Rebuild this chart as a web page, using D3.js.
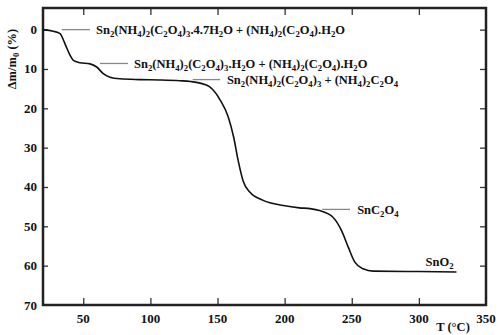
<!DOCTYPE html>
<html>
<head>
<meta charset="utf-8">
<script src="https://cdn.jsdelivr.net/npm/d3@7"></script>
<style>
  body { margin: 0; background: #fff; }
  text { font-family: "Liberation Serif", "Times New Roman", serif; font-weight: bold; fill: #111; }
</style>
</head>
<body>
<div id="viz"></div>
<script>
// TG curve: temperature (°C) and mass loss (%)
var temps  = [20, 27.7, 32.7, 36.4, 40.1, 42.6, 47.5, 55, 60, 64.9, 69.9, 77.3, 92, 107, 122, 130, 137, 144, 152, 158, 162, 165.4, 169, 174, 184, 199, 211, 219, 226, 236, 242.4, 247.4, 252.3, 258.5, 266, 300, 328];
var losses = [0, 0.4, 1.0, 3.6, 6.5, 7.8, 8.4, 8.7, 9.5, 11.2, 12.1, 12.5, 12.7, 12.8, 13.0, 13.2, 13.6, 14.5, 17.9, 22.2, 27.3, 33.3, 38.4, 41.3, 43.4, 44.7, 45.3, 45.5, 46.0, 47.7, 51.1, 55.3, 59.1, 60.8, 61.4, 61.5, 61.6];

var xTicks = [50, 100, 150, 200, 250, 300, 350];
var yTicks = [0, 10, 20, 30, 40, 50, 60, 70];

// annotations: text ("_" marks a subscript run), leader start/end temperatures, leader level
var labelTexts = [
  "Sn_2(NH_4)_2(C_2O_4)_3.4.7H_2O + (NH_4)_2(C_2O_4).H_2O",
  "Sn_2(NH_4)_2(C_2O_4)_3.H_2O + (NH_4)_2(C_2O_4).H_2O",
  "Sn_2(NH_4)_2(C_2O_4)_3 + (NH_4)_2C_2O_4",
  "SnC_2O_4",
  "SnO_2"
];
var leaderFrom = [34, 62.5, 131.5, 228, null];
var leaderTo   = [55, 83.3, 152, 248.7, null];
var leaderAt   = [0.0, 8.6, 12.7, 45.7, null];
var labelT     = [59.5, 87.8, 157, 254, 305];
var labelV     = [1.1, 9.7, 13.8, 46.9, 60.2];

var width = 500, height = 335;
var mLeft = 43, mRight = 486, mTop = 8, mBottom = 305;

var x = d3.scaleLinear().domain([20, 350]).range([mLeft, mRight]);
var y = d3.scaleLinear().domain([-5.5, 70]).range([mTop, mBottom]);

var svg = d3.select("#viz").append("svg")
  .attr("width", width)
  .attr("height", height);

// inward ticks on all four sides
svg.append("g").attr("transform", "translate(0," + mBottom + ")")
  .call(d3.axisTop(x).tickValues(xTicks.slice(0, -1)).tickSize(7).tickFormat(""));
svg.append("g").attr("transform", "translate(0," + mTop + ")")
  .call(d3.axisBottom(x).tickValues(xTicks.slice(0, -1)).tickSize(7).tickFormat(""));
svg.append("g").attr("transform", "translate(" + mLeft + ",0)")
  .call(d3.axisRight(y).tickValues(yTicks.slice(0, -1)).tickSize(5).tickFormat(""));
svg.append("g").attr("transform", "translate(" + mRight + ",0)")
  .call(d3.axisLeft(y).tickValues(yTicks.slice(0, -1)).tickSize(6).tickFormat(""));
svg.selectAll(".domain").remove();
svg.selectAll(".tick line").attr("stroke", "#333").attr("stroke-width", 1.3);

// frame
svg.append("rect")
  .attr("x", mLeft).attr("y", mTop)
  .attr("width", mRight - mLeft).attr("height", mBottom - mTop)
  .attr("fill", "none").attr("stroke", "#222").attr("stroke-width", 2.5);

// tick labels
svg.selectAll(".xl").data(xTicks).enter().append("text")
  .attr("x", function(d) { return x(d); })
  .attr("y", 323)
  .attr("text-anchor", "middle")
  .attr("font-size", 13)
  .text(function(d) { return d; });
svg.selectAll(".yl").data(yTicks).enter().append("text")
  .attr("x", 37)
  .attr("y", function(d) { return y(d) + 4.5; })
  .attr("text-anchor", "end")
  .attr("font-size", 13)
  .text(function(d) { return d; });

// formula text with subscripts
function formula(sel, str, size) {
  var parts = str.split(/(_[0-9]+)/);
  var sub = false;
  parts.forEach(function(p) {
    if (!p) return;
    if (p[0] == "_") {
      sel.append("tspan").attr("dy", 3).attr("font-size", size * 0.7).text(p.slice(1));
      sub = true;
    } else {
      var t = sel.append("tspan").attr("font-size", size).text(p);
      if (sub) { t.attr("dy", -3); sub = false; }
    }
  });
}

// curve
var line = d3.line()
  .x(function(d, i) { return x(temps[i]); })
  .y(function(d) { return y(d); })
  .curve(d3.curveMonotoneX);
svg.append("path")
  .datum(losses)
  .attr("d", line)
  .attr("fill", "none")
  .attr("stroke", "#111")
  .attr("stroke-width", 1.6);

// leaders and labels
labelTexts.forEach(function(s, i) {
  if (leaderFrom[i] != null) {
    svg.append("line")
      .attr("x1", x(leaderFrom[i])).attr("x2", x(leaderTo[i]))
      .attr("y1", y(leaderAt[i])).attr("y2", y(leaderAt[i]))
      .attr("stroke", "#888").attr("stroke-width", 1.3);
  }
  var t = svg.append("text")
    .attr("x", x(labelT[i]))
    .attr("y", y(labelV[i]));
  formula(t, s, 12.5);
});

// axis titles
var yt = svg.append("text")
  .attr("transform", "translate(16,59) rotate(-90)")
  .attr("text-anchor", "middle")
  .attr("font-size", 12.5);
formula(yt, "\u0394m/m_0 (%)", 12.5);

svg.append("text")
  .attr("x", 453).attr("y", 331)
  .attr("text-anchor", "middle")
  .attr("font-size", 12.5)
  .text("T (\u00B0C)");
</script>
</body>
</html>
